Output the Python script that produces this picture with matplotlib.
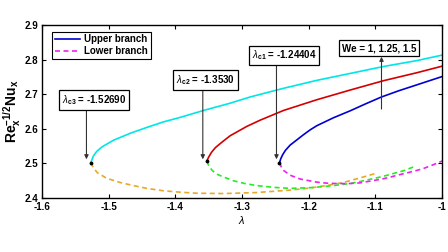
import matplotlib
matplotlib.use('Agg')
import matplotlib.pyplot as plt

plt.rcParams['font.family'] = ['Liberation Sans', 'DejaVu Sans']
plt.rcParams['mathtext.fontset'] = 'custom'
plt.rcParams['mathtext.rm'] = 'Liberation Sans'
plt.rcParams['mathtext.bf'] = 'Liberation Sans:bold'
plt.rcParams['mathtext.it'] = 'Liberation Sans:italic'

# upper branches
lam_up_1 = [-1.527, -1.523, -1.518, -1.510, -1.493, -1.468, -1.443, -1.418, -1.393,
            -1.358, -1.318, -1.288, -1.238, -1.188, -1.138, -1.088, -1.038, -1.0]
nu_up_1 = [2.502, 2.522, 2.535, 2.548, 2.567, 2.587, 2.604, 2.620, 2.633,
           2.653, 2.674, 2.692, 2.717, 2.740, 2.760, 2.780, 2.797, 2.813]

lam_up_2 = [-1.353, -1.350, -1.346, -1.340, -1.328, -1.318, -1.293, -1.273, -1.238,
            -1.188, -1.138, -1.088, -1.038, -1.0]
nu_up_2 = [2.507, 2.519, 2.532, 2.546, 2.565, 2.580, 2.607, 2.625, 2.653,
           2.684, 2.712, 2.739, 2.762, 2.781]

lam_up_3 = [-1.244, -1.242, -1.239, -1.235, -1.228, -1.218, -1.208, -1.198, -1.188,
            -1.163, -1.138, -1.115, -1.091, -1.065, -1.038, -1.0]
nu_up_3 = [2.502, 2.514, 2.526, 2.538, 2.553, 2.568, 2.583, 2.597, 2.609,
           2.632, 2.652, 2.672, 2.692, 2.710, 2.727, 2.751]

# lower branches
lam_lo_1 = [-1.527, -1.523, -1.517, -1.503, -1.483, -1.463, -1.443, -1.418, -1.393,
            -1.368, -1.328, -1.278, -1.228, -1.198, -1.168, -1.148, -1.133, -1.118, -1.100]
nu_lo_1 = [2.502, 2.487, 2.473, 2.457, 2.445, 2.436, 2.428, 2.421, 2.417,
           2.414, 2.413, 2.416, 2.423, 2.429, 2.438, 2.445, 2.453, 2.461, 2.471]

lam_lo_2 = [-1.353, -1.350, -1.345, -1.338, -1.328, -1.313, -1.296, -1.278, -1.253,
            -1.228, -1.198, -1.168, -1.138, -1.118, -1.090, -1.073, -1.058, -1.043]
nu_lo_2 = [2.507, 2.493, 2.480, 2.469, 2.461, 2.450, 2.442, 2.436, 2.431,
           2.428, 2.430, 2.435, 2.442, 2.450, 2.462, 2.471, 2.479, 2.490]

lam_lo_3 = [-1.244, -1.241, -1.238, -1.228, -1.213, -1.188, -1.173, -1.158, -1.138,
            -1.123, -1.108, -1.090, -1.075, -1.063, -1.048, -1.030, -1.015, -1.0]
nu_lo_3 = [2.502, 2.489, 2.480, 2.466, 2.455, 2.446, 2.443, 2.442, 2.442,
           2.444, 2.449, 2.455, 2.462, 2.468, 2.475, 2.484, 2.495, 2.507]

lam_crit = [-1.5269, -1.3530, -1.24404]
nu_crit = [2.502, 2.507, 2.502]
crit_names = ['c3', 'c2', 'c1']
crit_text = ['-1.52690', '-1.3530', '-1.24404']

up_colors = ['#00e6e6', '#d40000', '#0000d0']
lo_colors = ['#e8a828', '#22ee22', '#ee22ee']

xticks = [-1.6, -1.5, -1.4, -1.3, -1.2, -1.1, -1.0]
xtick_labels = ['-1.6', '-1.5', '-1.4', '-1.3', '-1.2', '-1.1', '-1']
yticks = [2.4, 2.5, 2.6, 2.7, 2.8, 2.9]

fig = plt.figure(figsize=(4.48, 2.52), dpi=100)
ax = fig.add_axes([0.094, 0.214, 0.893, 0.687])

ups = [(lam_up_1, nu_up_1), (lam_up_2, nu_up_2), (lam_up_3, nu_up_3)]
los = [(lam_lo_1, nu_lo_1), (lam_lo_2, nu_lo_2), (lam_lo_3, nu_lo_3)]
for (lx, ly), (dx, dy), cu, cl in zip(ups, los, up_colors, lo_colors):
    ax.plot(lx, ly, color=cu, lw=1.2)
    ax.plot(dx, dy, color=cl, lw=1.2, dashes=(3.0, 2.1))

ax.plot(lam_crit, nu_crit, 'k.', ms=3.5, zorder=5)

# legend proxies
h1, = ax.plot([], [], color='#0000d0', lw=1.2, label='Upper branch')
h2, = ax.plot([], [], color='#ee22ee', lw=1.2, dashes=(3.0, 2.1), label='Lower branch')
leg = ax.legend(handles=[h1, h2], loc='upper left', bbox_to_anchor=(0.012, 0.99),
                prop={'weight': 'bold', 'size': 7}, handlelength=2.6,
                handletextpad=0.4, borderpad=0.3, labelspacing=0.2,
                fancybox=False, framealpha=1)
leg.get_frame().set_edgecolor('black')
leg.get_frame().set_linewidth(0.8)

box = dict(boxstyle='square,pad=0.3', fc='white', ec='black', lw=0.9)
arrow = dict(arrowstyle='-|>', color='#333333', lw=0.8, mutation_scale=6, shrinkA=0, shrinkB=0)

# critical point labels
box_x = [-1.522, -1.355, -1.237]
box_y = [2.684, 2.741, 2.812]
arr_x = [-1.5335, -1.359, -1.2485]
tail_y = [2.657, 2.714, 2.784]
for i in range(3):
    ax.text(box_x[i], box_y[i],
            r'$\lambda_{\mathbf{' + crit_names[i] + r'}}$' + ' = ' + crit_text[i],
            ha='center', va='center', fontsize=7, fontweight='bold', bbox=box, zorder=6)
    ax.annotate('', xy=(arr_x[i], 2.512), xytext=(arr_x[i], tail_y[i]), arrowprops=arrow)

ax.text(-1.095, 2.833, 'We = 1, 1.25, 1.5', ha='center', va='center', fontsize=7,
        fontweight='bold', bbox=box, zorder=6)
ax.annotate('', xy=(-1.091, 2.808), xytext=(-1.091, 2.657), arrowprops=arrow)

ax.set_xlim(-1.6, -1.0)
ax.set_ylim(2.4, 2.9)
ax.set_xticks(xticks)
ax.set_xticklabels(xtick_labels)
ax.set_yticks(yticks)
ax.tick_params(direction='in', length=3, width=0.8, top=True, right=True,
               labelsize=7, pad=3)
for lab in ax.get_xticklabels() + ax.get_yticklabels():
    lab.set_fontweight('bold')
for s in ax.spines.values():
    s.set_linewidth(1.0)

ax.set_xlabel(r'$\lambda$', fontsize=8, labelpad=1)
ax.set_ylabel(r'$\mathbf{Re_x^{-1/2}Nu_x}$', fontsize=10, labelpad=1)

fig.savefig('out.png', dpi=100)
